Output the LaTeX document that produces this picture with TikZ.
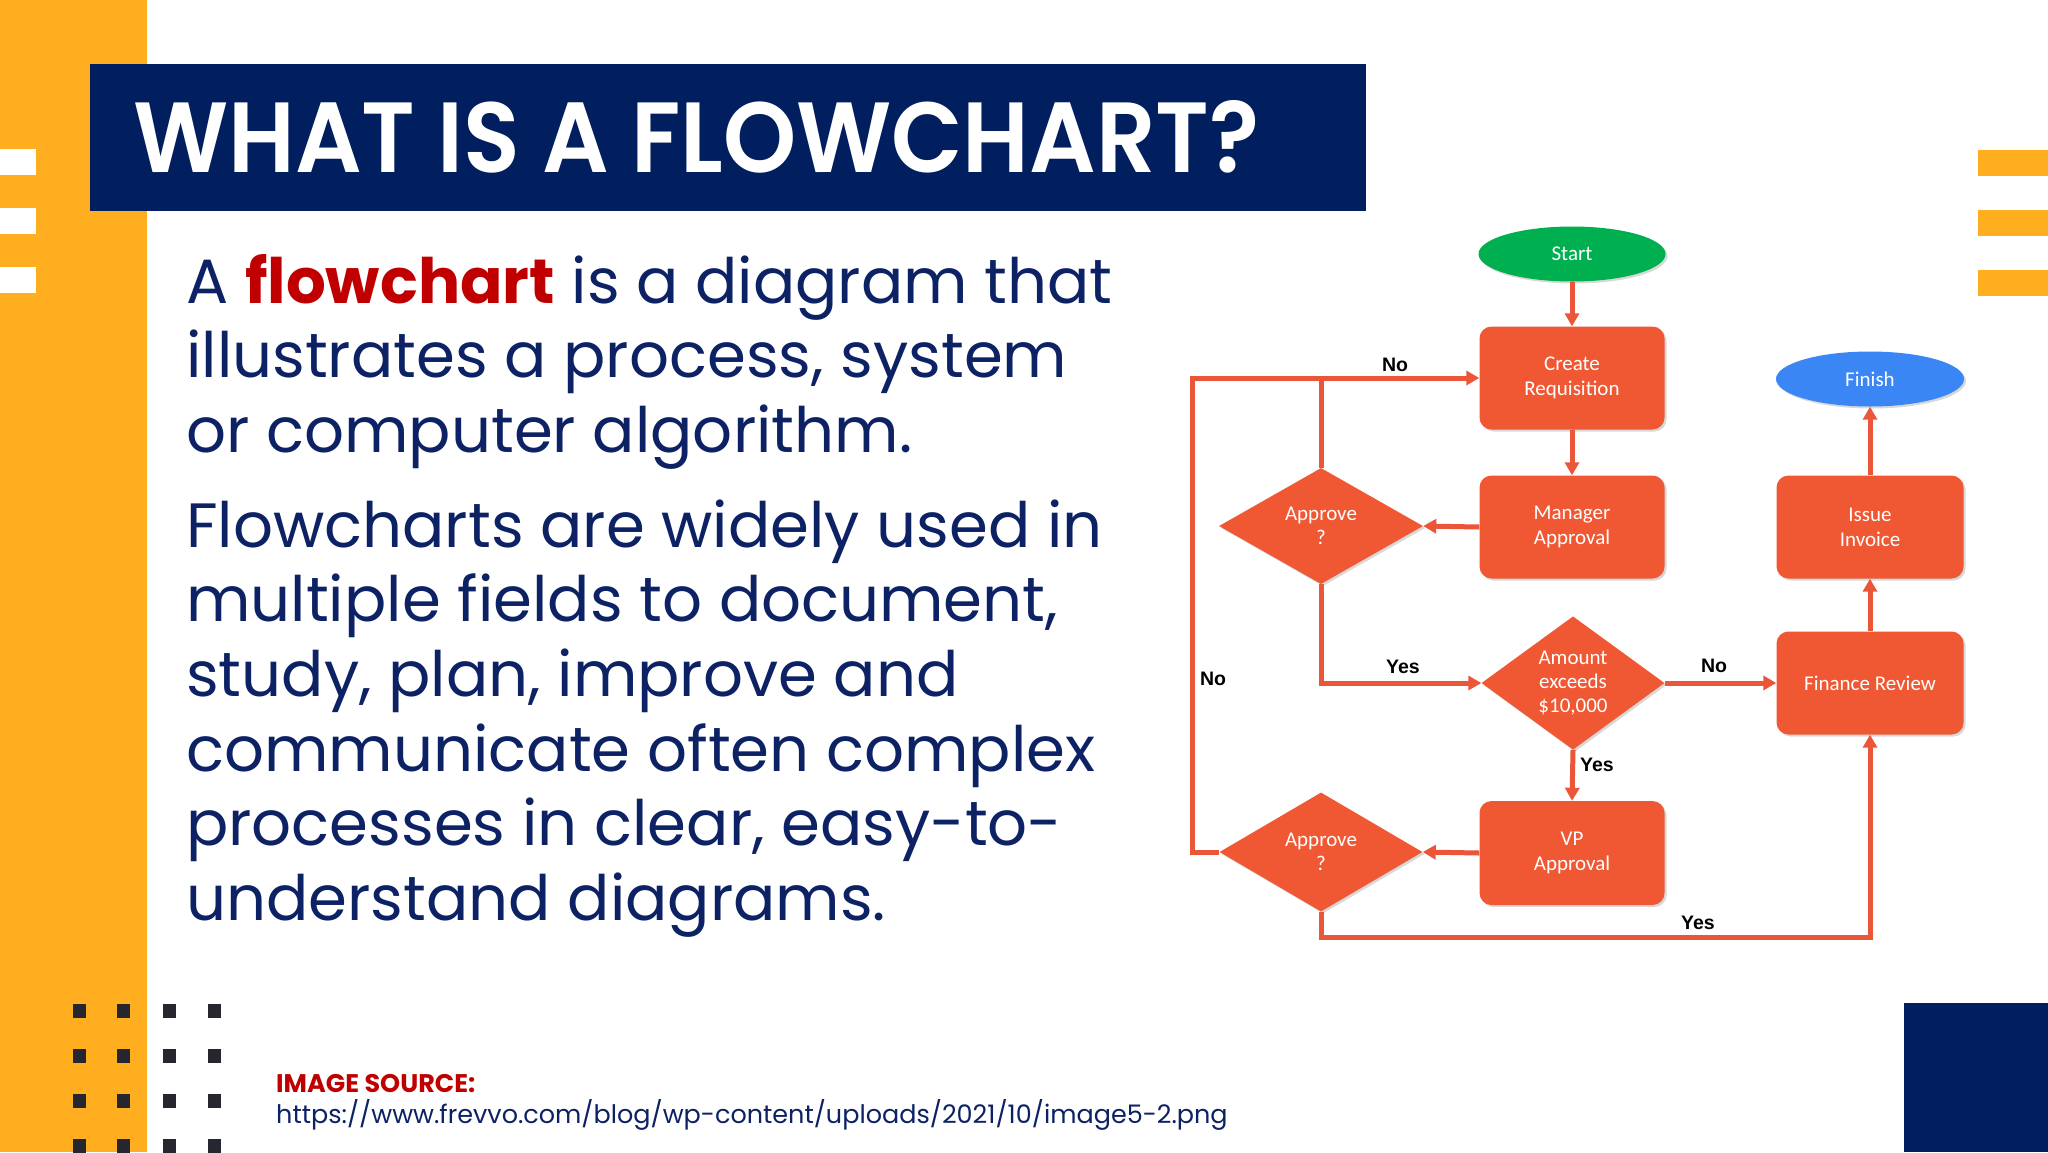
\documentclass[tikz,border=0pt]{standalone}
\usepackage{fontspec}
\setmainfont{Poppins}
\newfontfamily\titlefont{Poppins SemiBold}
\newfontfamily\fcfont{Carlito}
\newfontfamily\lblfont{Liberation Sans}
\usetikzlibrary{shapes.geometric,arrows.meta,shadows}
\definecolor{barorange}{RGB}{254,174,30}
\definecolor{navy}{RGB}{1,30,94}
\definecolor{textnavy}{RGB}{12,34,100}
\definecolor{keyred}{RGB}{192,0,0}
\definecolor{dotdark}{RGB}{38,38,48}
\definecolor{boxorange}{RGB}{240,88,52}
\definecolor{lineorange}{RGB}{235,86,56}
\definecolor{startgreen}{RGB}{0,176,80}
\definecolor{finishblue}{RGB}{58,134,245}
\tikzset{
  body/.style={anchor=base west, inner sep=0pt, text=textnavy, font=\fontsize{62.6}{74.6}\selectfont},
  fcshadow/.style={drop shadow={shadow xshift=2pt, shadow yshift=-2pt, opacity=0.25, fill=black!60}},
  procbox/.style={rectangle, rounded corners=12pt, fill=boxorange, text=white, align=center,
    minimum width=185pt, minimum height=103pt, inner sep=0pt, fcshadow,
    font=\fcfont\fontsize{21}{25}\selectfont},
  decbox/.style={diamond, fill=boxorange, text=white, align=center, inner sep=0pt, fcshadow,
    font=\fcfont\fontsize{21}{24}\selectfont},
  termbox/.style={ellipse, text=white, minimum width=187pt, minimum height=55pt, inner sep=0pt, fcshadow,
    font=\fcfont\fontsize{21}{25}\selectfont},
  conn/.style={draw=lineorange, line width=5pt},
  arr/.style={conn, -{Triangle[length=13pt,width=14pt]}},
  lbl/.style={inner sep=0pt, font=\lblfont\bfseries\fontsize{19.5}{22}\selectfont, text=black},
  deco/.style={fill=dotdark},
}
\begin{document}
\begin{tikzpicture}[x=1pt,y=-1pt]
\useasboundingbox (0,0) rectangle (2048,1152);
\fill[white] (0,0) rectangle (2048,1152);
% left orange bar and white dashes
\fill[barorange] (0,0) rectangle (147,1152);
\foreach \yy in {149,208,267} \fill[white] (0,\yy) rectangle (36,\yy+26);
% right orange dashes
\foreach \yy in {150,210,270} \fill[barorange] (1978,\yy) rectangle (2048,\yy+26);
% bottom right navy block
\fill[navy] (1904,1003) rectangle (2048,1152);
% dots grid
\foreach \xx in {79,123.5,169,214.5}
  \foreach \yy in {1011,1056,1101,1146}
    \fill[deco] (\xx-6.5,\yy-7) rectangle (\xx+6.5,\yy+7);
% title
\fill[navy] (90,64) rectangle (1366,211);
\node[anchor=base west, inner sep=0pt, text=white] (title) at (133,172)
  {\resizebox{1126pt}{72pt}{\titlefont WHAT IS A FLOWCHART?}};
% body text
\node[body] (l1) at (186,303) {A {\bfseries\color{keyred}flowchart} is a diagram that};
\node[body] (l2) at (186,377) {illustrates a process, system};
\node[body] (l3) at (186,452) {or computer algorithm.};
\node[body] (l4) at (186,547) {Flowcharts are widely used in};
\node[body] (l5) at (186,621) {multiple fields to document,};
\node[body] (l6) at (186,696) {study, plan, improve and};
\node[body] (l7) at (186,771) {communicate often complex};
\node[body] (l8) at (186,845) {processes in clear, easy-to-};
\node[body] (l9) at (186,920) {understand diagrams.};
% image source
\node[anchor=base west, inner sep=0pt, text=keyred, font=\bfseries\fontsize{25.5}{28}\selectfont] (src) at (276,1092) {IMAGE SOURCE:};
\node[anchor=base west, inner sep=0pt, text=textnavy, font=\fontsize{25.5}{28}\selectfont] (url) at (276,1123) {https://www.frevvo.com/blog/wp-content/uploads/2021/10/image5-2.png};
% flowchart nodes
\node[termbox, fill=startgreen] (start) at (1572,254) {Start};
\node[procbox] (create) at (1572,378) {Create\\Requisition};
\node[procbox] (manager) at (1572,527) {Manager\\Approval};
\node[decbox, minimum width=204pt, minimum height=116pt] (appr1) at (1321,526) {Approve\\?};
\node[decbox, minimum width=183pt, minimum height=119pt] (amount) at (1573,683) {Amount\\exceeds\\\$10,000};
\node[procbox, minimum width=187pt] (finance) at (1870,683) {Finance Review};
\node[procbox, minimum width=187pt] (issue) at (1870,527) {Issue\\Invoice};
\node[termbox, fill=finishblue, minimum width=188pt] (finish) at (1870,379) {Finish};
\node[procbox, minimum height=104pt] (vp) at (1572,853) {VP\\Approval};
\node[decbox, minimum width=203pt, minimum height=119pt] (appr2) at (1321,852) {Approve\\?};
\coordinate (lt) at (1192,378);
% connectors
\draw[arr] (start.south) -- (create.north);
\draw[arr] (create.south) -- (manager.north);
\draw[arr] (manager.west) -- (appr1.east);
\draw[arr] (appr1.south) |- (amount.west);
\draw[arr] (amount.east) -- (finance.west);
\draw[arr] (amount.south) -- (vp.north);
\draw[arr] (vp.west) -- (appr2.east);
\draw[arr] (appr2.west) -| (lt) -- (create.west);
\draw[conn] (appr1.north) -- (appr1.north |- lt);
\draw[arr] (appr2.south) -- ++(0,26) -| (finance.south);
\draw[arr] (finance.north) -- (issue.south);
\draw[arr] (issue.north) -- (finish.south);
% labels
\node[lbl] (lno1) at (1395,365) {No};
\node[lbl] (lyes1) at (1403,667) {Yes};
\node[lbl] (lno2) at (1714,666) {No};
\node[lbl, anchor=west] (lyes2) at (1580,765) {Yes};
\node[lbl] (lno3) at (1213,679) {No};
\node[lbl] (lyes3) at (1698,923) {Yes};
\end{tikzpicture}
\end{document}
